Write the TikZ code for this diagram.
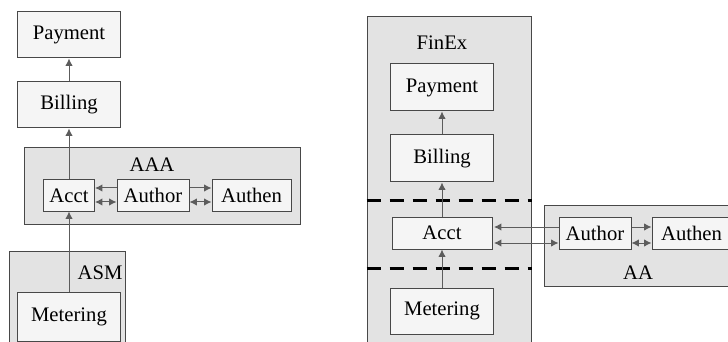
\documentclass[tikz,border=0pt]{standalone}
\usepackage{fontspec}
\setmainfont{Liberation Serif}
\usetikzlibrary{arrows.meta,calc}

\definecolor{groupfill}{HTML}{E3E3E3}
\definecolor{boxfill}{HTML}{F5F5F5}
\definecolor{edgegray}{HTML}{484848}
\definecolor{arrowgray}{HTML}{5C5C5C}

\tikzset{
  group/.style={draw=edgegray, fill=groupfill, rectangle, inner sep=0pt, line width=0.75pt},
  comp/.style={draw=edgegray, fill=boxfill, rectangle, inner sep=0pt, line width=0.75pt},
  link/.style={draw=arrowgray, line width=0.75pt, -{Latex[length=5.5pt,width=5.5pt]}},
  both/.style={draw=arrowgray, line width=0.75pt, {Latex[length=5.5pt,width=5.5pt]}-{Latex[length=5.5pt,width=5.5pt]}},
  layer/.style={black, line width=2.25pt, dash pattern=on 10.5pt off 6.75pt}
}

\begin{document}
\begin{tikzpicture}[x=0.75pt, y=-0.75pt, font=\fontsize{15.5}{18}\selectfont]
        \useasboundingbox (0,0) rectangle (728,342);
        \clip (0,0) rectangle (728,342);

        % left: AAA layout
        \node (AAA) [group, minimum width=207pt, minimum height=57pt] at (162,186) {};
        \node (AAALabel) at (152,165) {AAA};
        \node (ASM) [group, minimum width=87pt, minimum height=81.75pt] at (67,305.5) {};
        \node (ASMLabel) at (100,273) {ASM};

        \node (Payment) [comp, minimum width=77.25pt, minimum height=34.5pt] at (69,35) {Payment};
        \node (Billing) [comp, minimum width=77.25pt, minimum height=34.5pt] at (69,105) {Billing};
        \node (Acct) [comp, minimum width=38.25pt, minimum height=23.25pt] at (69,195.5) {Acct};
        \node (Author) [comp, minimum width=54pt, minimum height=23.25pt] at (153,195.5) {Author};
        \node (Authen) [comp, minimum width=59.25pt, minimum height=23.25pt] at (251.5,195.5) {Authen};
        \node (Metering) [comp, minimum width=77.25pt, minimum height=36.75pt] at (69,316.5) {Metering};

        \draw [link] (Billing) -- (Payment);
        \draw [link] (Acct) -- (Billing);
        \draw [link] (Metering) -- (Acct);
        \draw [link] ($(Author.west)+(0,-7.5)$) -- ($(Acct.east)+(0,-7.5)$);
        \draw [both] ($(Acct.east)+(0,6.5)$) -- ($(Author.west)+(0,6.5)$);
        \draw [link] ($(Author.east)+(0,-7.5)$) -- ($(Authen.west)+(0,-7.5)$);
        \draw [both] ($(Author.east)+(0,6.5)$) -- ($(Authen.west)+(0,6.5)$);

        % right: FinEx layout
        \node (FinEx) [group, minimum width=123pt, minimum height=257.25pt] at (449,188.5) {};
        \node (FinExLabel) at (442,43) {FinEx};
        \node (AA) [group, minimum width=147pt, minimum height=60.75pt] at (642,245.5) {};
        \node (AALabel) at (638,273) {AA};

        \node (PaymentR) [comp, minimum width=77.25pt, minimum height=35.25pt] at (442,87.5) {Payment};
        \node (BillingR) [comp, minimum width=77.25pt, minimum height=35.25pt] at (442,158.5) {Billing};
        \node (AcctR) [comp, minimum width=75pt, minimum height=24pt] at (442,233) {Acct};
        \node (MeteringR) [comp, minimum width=77.25pt, minimum height=34.5pt] at (442,311) {Metering};
        \node (AuthorR) [comp, minimum width=54pt, minimum height=24pt] at (595,233) {Author};
        \node (AuthenR) [comp, minimum width=59.25pt, minimum height=24pt] at (691.5,233) {Authen};

        \draw [layer] (FinEx.west |- 0,201) -- (FinEx.east |- 0,201);
        \draw [layer] (FinEx.west |- 0,268) -- (FinEx.east |- 0,268);

        \draw [link] (BillingR) -- (PaymentR);
        \draw [link] (AcctR) -- (BillingR);
        \draw [link] (MeteringR) -- (AcctR);
        \draw [link] ($(AuthorR.west)+(0,-6)$) -- ($(AcctR.east)+(1.5,-6)$);
        \draw [both] ($(AcctR.east)+(1.5,10)$) -- ($(AuthorR.west)+(0,10)$);
        \draw [link] ($(AuthorR.east)+(0,-6)$) -- ($(AuthenR.west)+(0,-6)$);
        \draw [both] ($(AuthorR.east)+(0,10)$) -- ($(AuthenR.west)+(0,10)$);
\end{tikzpicture}
\end{document}
